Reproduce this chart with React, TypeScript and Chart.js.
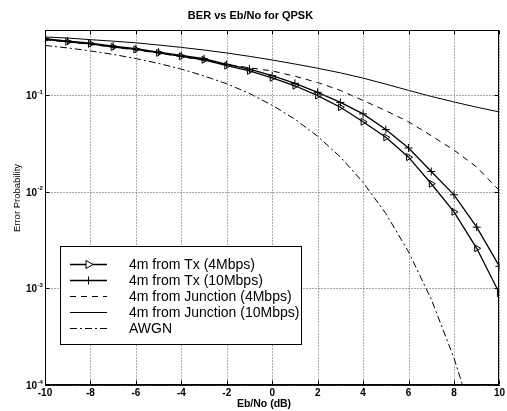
import React, { useEffect, useRef } from 'react';
import { Chart, registerables } from 'chart.js';

Chart.register(...registerables);

const TITLE = 'BER vs Eb/No for QPSK';
const X_LABEL = 'Eb/No (dB)';
const Y_LABEL = 'Error Probability';
const SERIES_NAMES = [
  '4m from Tx (4Mbps)',
  '4m from Tx (10Mbps)',
  '4m from Junction (4Mbps)',
  '4m from Junction (10Mbps)',
  'AWGN',
];

const ebNo = [-10, -9, -8, -7, -6, -5, -4, -3, -2, -1, 0, 1, 2, 3, 4, 5, 6, 7, 8, 9, 10];
const txFourMbps = [0.378, 0.357, 0.34, 0.315, 0.297, 0.274, 0.252, 0.232, 0.202, 0.178, 0.151, 0.125, 0.099, 0.075, 0.053, 0.0366, 0.0228, 0.0121, 0.0062, 0.0026, 0.00089];
const txTenMbps = [0.385, 0.363, 0.345, 0.321, 0.302, 0.279, 0.258, 0.238, 0.208, 0.186, 0.159, 0.1325, 0.107, 0.084, 0.064, 0.044, 0.0284, 0.0162, 0.0093, 0.0043, 0.00169];
const junctionFourMbps = [0.375, 0.355, 0.335, 0.314, 0.293, 0.272, 0.25, 0.229, 0.208, 0.192, 0.178, 0.157, 0.135, 0.112, 0.088, 0.069, 0.053, 0.038, 0.027, 0.018, 0.0103];
const junctionTenMbps = [0.4, 0.39, 0.375, 0.362, 0.348, 0.33, 0.312, 0.293, 0.273, 0.252, 0.231, 0.21, 0.19, 0.17, 0.15, 0.13, 0.112, 0.097, 0.085, 0.075, 0.067];
const awgn = [0.327, 0.308, 0.287, 0.264, 0.239, 0.213, 0.186, 0.158, 0.131, 0.104, 0.0786, 0.0563, 0.0375, 0.0229, 0.0125, 0.00595, 0.00239, 0.00077, 0.00019, 0.000034, 0.0000039];

const xTicks = [-10, -8, -6, -4, -2, 0, 2, 4, 6, 8, 10];
const yDecades = [-4, -3, -2, -1];

const FONT = '"Liberation Sans", Arial, Helvetica, sans-serif';

const styles = [
  { dash: [] as number[], width: 1.3, marker: 'tri' },
  { dash: [] as number[], width: 1.3, marker: 'plus' },
  { dash: [6, 5], width: 1, marker: '' },
  { dash: [] as number[], width: 1, marker: '' },
  { dash: [7, 3, 2, 3], width: 1, marker: '' },
];

function drawMarker(ctx: CanvasRenderingContext2D, kind: string, x: number, y: number) {
  ctx.save();
  ctx.setLineDash([]);
  ctx.lineWidth = 1;
  ctx.strokeStyle = '#000';
  if (kind === 'tri') {
    ctx.beginPath();
    ctx.moveTo(x + 4.5, y);
    ctx.lineTo(x - 2.5, y - 4);
    ctx.lineTo(x - 2.5, y + 4);
    ctx.closePath();
    ctx.fillStyle = '#fff';
    ctx.fill();
    ctx.stroke();
  } else if (kind === 'plus') {
    ctx.beginPath();
    ctx.moveTo(x - 4, y);
    ctx.lineTo(x + 4, y);
    ctx.moveTo(x, y - 4);
    ctx.lineTo(x, y + 4);
    ctx.stroke();
  }
  ctx.restore();
}

const framePlugin = {
  id: 'frameAndLegend',
  afterDraw(chart: any) {
    const { ctx, chartArea: a, scales } = chart;
    const xs = scales.x;
    const ys = scales.y;
    const l = Math.round(a.left) + 0.5;
    const r = Math.round(a.right) - 0.5;
    const t = Math.round(a.top) + 0.5;
    const b = Math.round(a.bottom) - 0.5;
    ctx.save();

    // dotted grid
    ctx.strokeStyle = '#555';
    ctx.lineWidth = 1;
    ctx.setLineDash([1, 2]);
    ctx.beginPath();
    xTicks.forEach((v) => {
      const px = Math.round(xs.getPixelForValue(v)) + 0.5;
      ctx.moveTo(px, t);
      ctx.lineTo(px, b);
    });
    yDecades.forEach((e) => {
      const py = Math.round(ys.getPixelForValue(Math.pow(10, e))) + 0.5;
      ctx.moveTo(l, py);
      ctx.lineTo(r, py);
    });
    ctx.stroke();

    ctx.strokeStyle = '#000';
    ctx.setLineDash([]);
    ctx.strokeRect(l, t, r - l, b - t);

    // inward tick marks
    ctx.beginPath();
    xTicks.forEach((v) => {
      const px = Math.round(xs.getPixelForValue(v)) + 0.5;
      ctx.moveTo(px, b);
      ctx.lineTo(px, b - 4);
      ctx.moveTo(px, t);
      ctx.lineTo(px, t + 4);
    });
    yDecades.forEach((e) => {
      const py = Math.round(ys.getPixelForValue(Math.pow(10, e))) + 0.5;
      ctx.moveTo(l, py);
      ctx.lineTo(l + 4, py);
      ctx.moveTo(r, py);
      ctx.lineTo(r - 4, py);
    });
    ctx.stroke();

    // y tick labels with superscript exponent
    ctx.fillStyle = '#000';
    yDecades.forEach((e) => {
      const py = ys.getPixelForValue(Math.pow(10, e));
      ctx.font = `bold 10px ${FONT}`;
      ctx.textAlign = 'right';
      ctx.textBaseline = 'middle';
      ctx.fillText('10', 37, py + 1);
      ctx.font = `bold 6px ${FONT}`;
      ctx.textAlign = 'left';
      ctx.fillText(String(e), 37.5, py - 3);
    });

    // axis titles
    ctx.font = `bold 10.5px ${FONT}`;
    ctx.textAlign = 'center';
    ctx.textBaseline = 'middle';
    ctx.fillText(X_LABEL, 264, 404);
    ctx.save();
    ctx.translate(17, 198);
    ctx.rotate(-Math.PI / 2);
    ctx.font = `9.5px ${FONT}`;
    ctx.fillText(Y_LABEL, 0, 0);
    ctx.restore();

    // legend
    const bx = 60.5, by = 246.5, bw = 241, bh = 98;
    ctx.fillStyle = '#fff';
    ctx.fillRect(bx, by, bw, bh);
    ctx.strokeStyle = '#000';
    ctx.lineWidth = 1;
    ctx.strokeRect(bx, by, bw, bh);
    SERIES_NAMES.forEach((name, i) => {
      const y = 264.5 + i * 16;
      const st = styles[i];
      ctx.save();
      ctx.strokeStyle = '#000';
      ctx.lineWidth = st.width;
      ctx.setLineDash(st.dash);
      ctx.beginPath();
      ctx.moveTo(70, y);
      ctx.lineTo(107, y);
      ctx.stroke();
      ctx.restore();
      if (st.marker) drawMarker(ctx, st.marker, 88.5, y);
      ctx.fillStyle = '#000';
      ctx.font = `14px ${FONT}`;
      ctx.textAlign = 'left';
      ctx.textBaseline = 'middle';
      ctx.fillText(name, 129, y + 0.5);
    });
    ctx.restore();
  },
};

export default function App() {
  const canvasRef = useRef<HTMLCanvasElement | null>(null);

  useEffect(() => {
    const canvas = canvasRef.current;
    if (!canvas) return;
    Chart.defaults.font.family = FONT;
    Chart.defaults.color = '#000';
    const seriesValues = [txFourMbps, txTenMbps, junctionFourMbps, junctionTenMbps, awgn];
    const datasets = seriesValues.map((vals, i) => {
      const st = styles[i];
      return {
        label: SERIES_NAMES[i],
        data: ebNo.map((x, j) => ({ x, y: vals[j] })),
        borderColor: '#000',
        borderWidth: st.width,
        borderDash: st.dash,
        backgroundColor: 'rgba(0,0,0,0)',
        tension: 0,
        pointStyle: st.marker === 'tri' ? 'triangle' : st.marker === 'plus' ? 'cross' : 'circle',
        pointRotation: st.marker === 'tri' ? 90 : 0,
        pointRadius: st.marker ? 4 : 0,
        pointBorderWidth: 1,
        pointBorderColor: '#000',
        pointBackgroundColor: 'rgba(0,0,0,0)',
      };
    });

    const chart = new Chart(canvas, {
      type: 'line',
      data: { datasets },
      plugins: [framePlugin],
      options: {
        responsive: false,
        animation: false,
        devicePixelRatio: 1,
        layout: { padding: { left: 0, right: 6, top: 0, bottom: 0 } },
        plugins: {
          legend: { display: false },
          tooltip: { enabled: false },
          title: {
            display: true,
            text: TITLE,
            color: '#000',
            font: { size: 11, weight: 'bold', family: FONT },
            padding: { top: 9, bottom: 8 },
          },
        },
        scales: {
          x: {
            type: 'linear',
            min: -10,
            max: 10,
            afterFit: (s: any) => {
              s.height = 26;
            },
            afterBuildTicks: (s: any) => {
              s.ticks = xTicks.map((v) => ({ value: v }));
            },
            ticks: {
              color: '#000',
              font: { size: 10, weight: 'bold', family: FONT },
              padding: 2,
              maxRotation: 0,
              autoSkip: false,
            },
            grid: { display: false, drawTicks: false, tickLength: 0 },
            border: { display: true, color: '#000' },
          },
          y: {
            type: 'logarithmic',
            min: 0.0001,
            max: 0.47,
            afterFit: (s: any) => {
              s.width = 45;
            },
            afterBuildTicks: (s: any) => {
              s.ticks = yDecades.map((e) => ({ value: Math.pow(10, e) }));
            },
            ticks: { display: false },
            grid: { display: false, drawTicks: false, tickLength: 0 },
            border: { display: true, color: '#000' },
          },
        },
      } as any,
    });
    return () => chart.destroy();
  }, []);

  return (
    <div style={{ position: 'absolute', left: 0, top: 0, width: 507, height: 411, background: '#fff' }}>
      <canvas ref={canvasRef} width={507} height={411} style={{ display: 'block' }} />
    </div>
  );
}
